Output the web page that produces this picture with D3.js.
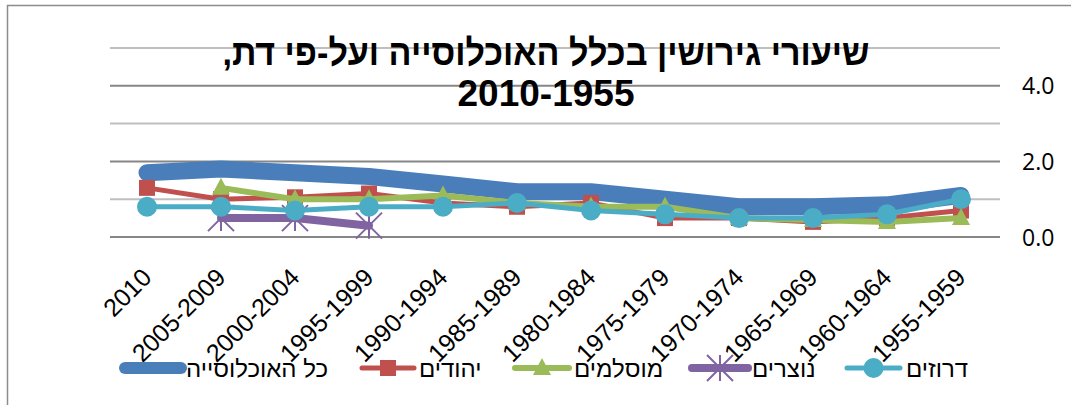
<!DOCTYPE html>
<html><head><meta charset="utf-8">
<script src="https://cdnjs.cloudflare.com/ajax/libs/d3/7.8.5/d3.min.js"></script>
<style>html,body{margin:0;padding:0;background:#fff;}svg{display:block;}</style>
</head><body><svg id="c" width="1071" height="405"></svg>
<script>
const categories = ["2010","2005-2009","2000-2004","1995-1999","1990-1994","1985-1989","1980-1984","1975-1979","1970-1974","1965-1969","1960-1964","1955-1959"];
const allPop   = [1.7, 1.8, 1.7, 1.6, 1.4, 1.2, 1.2, 1.0, 0.8, 0.8, 0.85, 1.1];
const jews     = [1.3, 1.0, 1.05, 1.15, 0.9, 0.8, 0.9, 0.5, 0.5, 0.4, 0.5, 0.7];
const muslims  = [null, 1.3, 1.0, 1.0, 1.1, 0.9, 0.8, 0.8, 0.5, 0.45, 0.4, 0.5];
const christians = [null, 0.5, 0.5, 0.3, null, null, null, null, null, null, null, null];
const druze    = [0.8, 0.8, 0.7, 0.8, 0.8, 0.9, 0.7, 0.6, 0.5, 0.5, 0.6, 1.0];
const seriesNames = ["כל האוכלוסייה","יהודים","מוסלמים","נוצרים","דרוזים"];
const yTickLabels = [0, 2, 4];
const titleLines = ["שיעורי גירושין בכלל האוכלוסייה ועל-פי דת,", "2010-1955"];

const svg = d3.select("#c");
const x = d3.scaleBand().domain(categories).range([110, 998]);
const y = d3.scaleLinear().domain([0, 5]).range([237, 48]);
const cx = c => x(c) + x.bandwidth()/2;

// frame
svg.append("rect").attr("x",7.5).attr("y",5.5).attr("width",1100).attr("height",500)
  .attr("fill","none").attr("stroke","#8c8c8c").attr("stroke-width",1.5);

// gridlines
const grid = svg.append("g");
d3.range(0, 6).forEach(v => {
  grid.append("line").attr("x1",110).attr("x2",1000).attr("y1",y(v)).attr("y2",y(v))
    .attr("stroke", v % 2 === 0 ? "#868686" : "#bfbfbf").attr("stroke-width",2);
});

// y axis labels on right
const yAxis = d3.axisRight(y).tickValues(yTickLabels).tickFormat(d3.format(".1f")).tickSize(0).tickPadding(0);
const ga = svg.append("g").attr("transform","translate(1022,0)").call(yAxis);
ga.select(".domain").remove();
ga.selectAll("text").attr("font-family","Open Sans, Noto Sans, sans-serif").attr("font-size",23).attr("fill","#000").attr("dy","0.35em");

// x labels
const xa = svg.append("g");
categories.forEach(c => {
  xa.append("text").attr("transform",`translate(${cx(c)+6},279) rotate(-45)`)
    .attr("text-anchor","end").attr("font-family","Liberation Sans, Arial, sans-serif")
    .attr("font-size",25).attr("fill","#000").text(c);
});

const series = [
  {name: seriesNames[0], data: allPop, color:"#4A7EBB", width:17, marker:"none"},
  {name: seriesNames[1], data: jews, color:"#C0504D", width:5, marker:"square"},
  {name: seriesNames[2], data: muslims, color:"#9BBB59", width:6, marker:"triangle"},
  {name: seriesNames[3], data: christians, color:"#8064A2", width:8, marker:"star"},
  {name: seriesNames[4], data: druze, color:"#4BACC6", width:5, marker:"circle"}
];

function drawMarker(g, type, px, py, color) {
  if (type === "square") {
    g.append("rect").attr("x",px-8).attr("y",py-8).attr("width",16).attr("height",16).attr("fill",color);
  } else if (type === "triangle") {
    g.append("path").attr("d",`M${px},${py-10}L${px+9},${py+7}L${px-9},${py+7}Z`).attr("fill",color);
  } else if (type === "circle") {
    g.append("circle").attr("cx",px).attr("cy",py).attr("r",10).attr("fill",color);
  } else if (type === "star") {
    const s = 13;
    g.append("path").attr("d",`M${px-s},${py-s}L${px+s},${py+s}M${px+s},${py-s}L${px-s},${py+s}M${px},${py-s}L${px},${py+s}`)
      .attr("stroke",color).attr("stroke-width",2).attr("fill","none");
  }
}

const line = d3.line().defined(d => d.v != null).x(d => cx(d.c)).y(d => y(d.v));
series.forEach(s => {
  const pts = categories.map((c,i) => ({c, v: s.data[i]}));
  const g = svg.append("g");
  g.append("path").datum(pts).attr("d", line).attr("fill","none").attr("stroke", s.color)
    .attr("stroke-width", s.width).attr("stroke-linejoin","round").attr("stroke-linecap","round");
  pts.filter(p => p.v != null).forEach(p => drawMarker(g, s.marker, cx(p.c), y(p.v), s.color));
});

// title
const t = svg.append("text").attr("text-anchor","middle").attr("font-family","Liberation Sans, Arial, sans-serif")
  .attr("font-weight","bold").attr("font-size",37).attr("fill","#000");
t.append("tspan").attr("x",546).attr("y",65).attr("direction","rtl").attr("unicode-bidi","embed")
  .attr("textLength",647).attr("lengthAdjust","spacingAndGlyphs").text(titleLines[0]);
t.append("tspan").attr("x",546).attr("y",106).text(titleLines[1]);

// legend
const legendPos = [
  {lx1:125, lx2:181, tx:186},
  {lx1:362, lx2:414, tx:419},
  {lx1:515, lx2:569, tx:574},
  {lx1:692, lx2:748, tx:752},
  {lx1:847, lx2:900, tx:906}
];
const lg = svg.append("g");
series.forEach((s,i) => {
  const p = legendPos[i], ly = 368;
  lg.append("line").attr("x1",p.lx1).attr("x2",p.lx2).attr("y1",ly).attr("y2",ly)
    .attr("stroke",s.color).attr("stroke-width", Math.min(s.width, 12)).attr("stroke-linecap","round");
  drawMarker(lg, s.marker, (p.lx1+p.lx2)/2, ly, s.color);
  lg.append("text").attr("x",p.tx).attr("y",ly).attr("dy","0.36em").attr("text-anchor","start")
    .attr("font-family","Liberation Sans, Arial, sans-serif").attr("font-size",24).attr("fill","#000").text(s.name);
});
</script></body></html>
